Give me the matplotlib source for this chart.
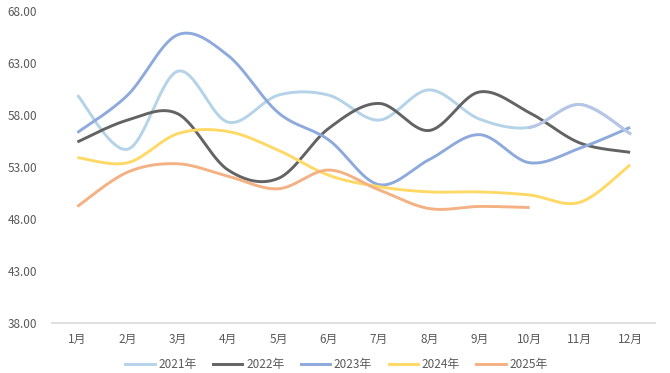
import numpy as np
import matplotlib
matplotlib.use("Agg")
import matplotlib.pyplot as plt
from matplotlib.lines import Line2D

plt.rcParams['font.family'] = ['Noto Sans CJK SC', 'DejaVu Sans']

months = ["1月", "2月", "3月", "4月", "5月", "6月", "7月", "8月", "9月", "10月", "11月", "12月"]
y2021 = [59.9, 54.7, 62.2, 57.3, 59.9, 59.9, 57.5, 60.4, 57.6, 56.8, 59.0, 56.2]
y2022 = [55.4, 57.5, 58.1, 52.7, 51.9, 56.7, 59.1, 56.5, 60.2, 58.2, 55.3, 54.4]
y2023 = [56.3, 59.9, 65.7, 63.7, 58.2, 55.6, 51.3, 53.7, 56.1, 53.4, 54.8, 56.8]
y2024 = [53.9, 53.4, 56.2, 56.4, 54.6, 52.2, 51.1, 50.6, 50.6, 50.3, 49.6, 53.2]
y2025 = [49.2, 52.5, 53.3, 52.1, 50.9, 52.7, 50.8, 49.0, 49.2, 49.1]
labels = ["2021年", "2022年", "2023年", "2024年", "2025年"]
colors = ["#b4d3e8", "#636363", "#8eaadc", "#ffd966", "#f4b183"]
yticks = [38, 43, 48, 53, 58, 63, 68]


def smooth(xs, ys, n=30):
    xs = np.asarray(xs, float)
    ys = np.asarray(ys, float)
    P = np.column_stack([xs, ys])
    out = []
    m = len(P)
    for i in range(m - 1):
        p0 = P[i - 1] if i > 0 else P[i]
        p1 = P[i]
        p2 = P[i + 1]
        p3 = P[i + 2] if i + 2 < m else P[i + 1]
        c1 = p1 + (p2 - p0) / 6.0
        c2 = p2 - (p3 - p1) / 6.0
        t = np.linspace(0, 1, n)[:, None]
        seg = ((1 - t) ** 3) * p1 + 3 * ((1 - t) ** 2) * t * c1 + 3 * (1 - t) * t ** 2 * c2 + t ** 3 * p2
        if i > 0:
            seg = seg[1:]
        out.append(seg)
    c = np.vstack(out)
    return c[:, 0], c[:, 1]


fig = plt.figure(figsize=(6.7, 3.73), dpi=100)
ax = fig.add_axes([0.078, 0.134, 0.9, 0.837])

series = [y2021, y2022, y2023, y2024, y2025]
for ys, col in zip(series, colors):
    xs = np.arange(1, len(ys) + 1)
    sx, sy = smooth(xs, ys)
    ax.plot(sx, sy, color=col, lw=2.1, solid_capstyle='butt', zorder=3)

# 2021 later segment drawn in lavender tone
xs = np.arange(1, 13)
sx, sy = smooth(xs, y2021)
mask = sx >= 10
ax.plot(sx[mask], sy[mask], color="#b7c5e6", lw=2.1, zorder=3)

ax.set_xlim(0.5, 12.5)
ax.set_ylim(38, 68)
ax.set_yticks(yticks)
ax.set_yticklabels([f"{v:.2f}" for v in yticks])
ax.set_xticks(np.arange(1, 13))
ax.set_xticklabels(months)
for s in ["top", "right", "left"]:
    ax.spines[s].set_visible(False)
ax.spines["bottom"].set_color("#d9d9d9")
ax.spines["bottom"].set_linewidth(1.2)
ax.tick_params(axis='both', length=0, labelsize=8.5, labelcolor="#595959")
ax.tick_params(axis='y', pad=11)
ax.tick_params(axis='x', pad=7)

handles = [Line2D([0], [0], color=c, lw=2.1) for c in colors]
fig.legend(handles, labels, loc='center', bbox_to_anchor=(0.502, 0.022), ncol=5,
           frameon=False, fontsize=8.5, labelcolor="#595959", handlelength=2.5,
           handletextpad=0.3, columnspacing=1.4)

fig.savefig("out.png", dpi=100, facecolor="white")
